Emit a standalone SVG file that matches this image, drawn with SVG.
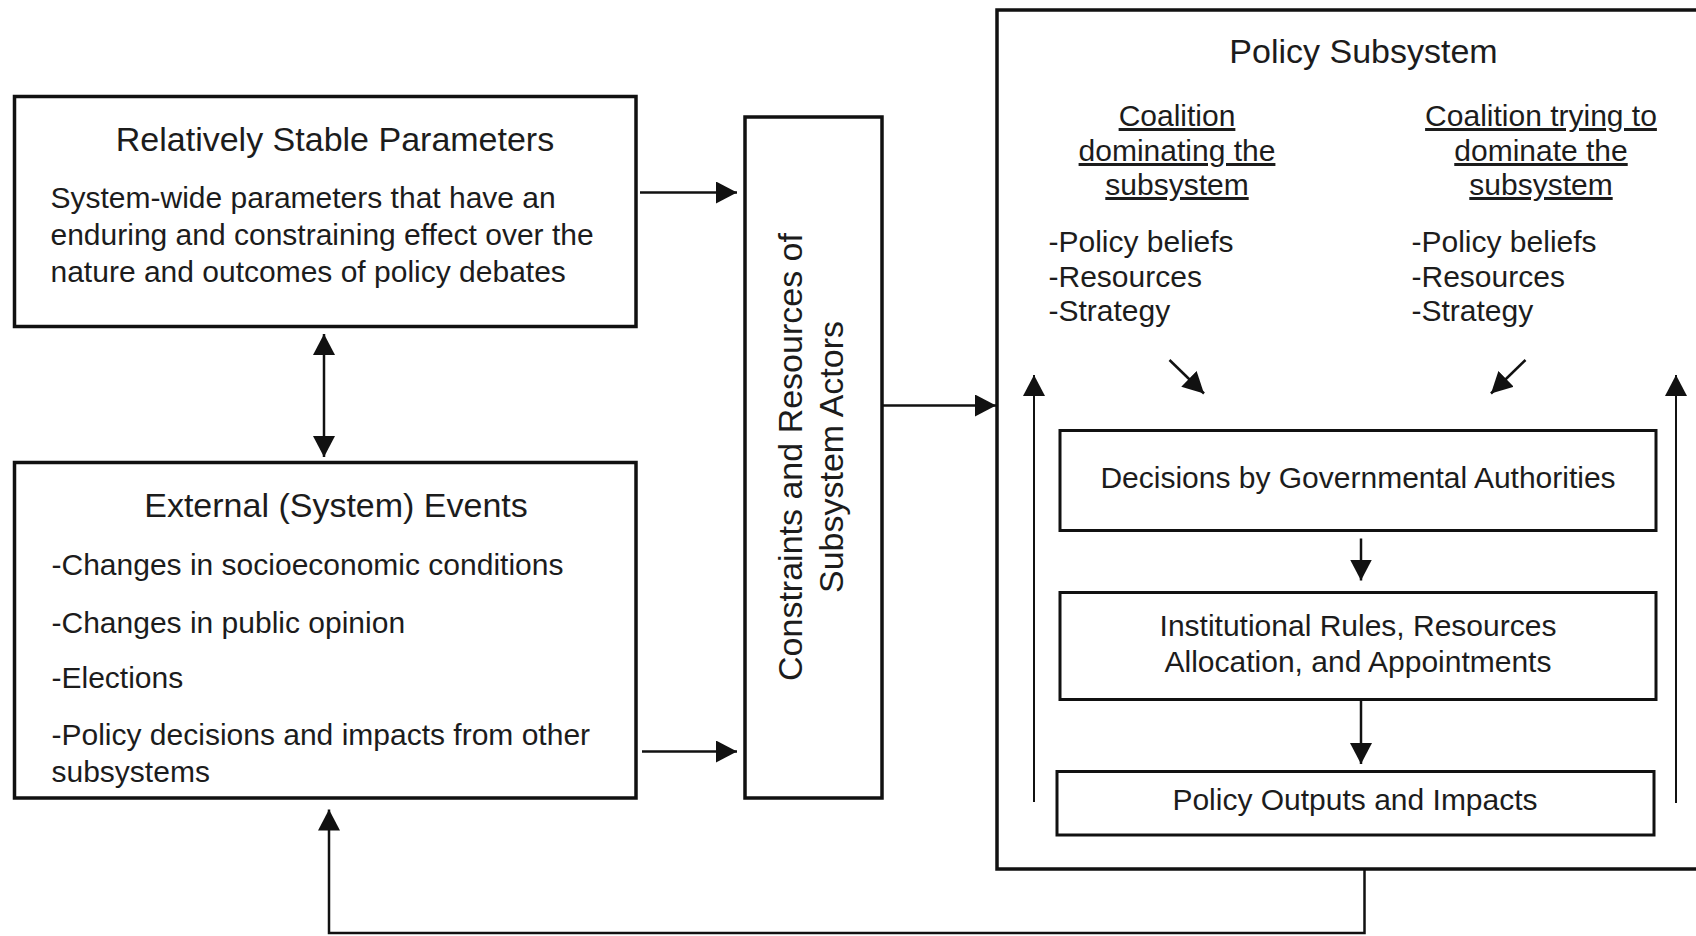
<svg xmlns="http://www.w3.org/2000/svg" width="1696" height="936" viewBox="0 0 1696 936">
  <style>
    text { font-family: "Liberation Sans", Arial, sans-serif; fill: #1c1c1c; }
    .title { font-size: 34px; }
    .body { font-size: 30px; }
    .mid { text-anchor: middle; }
    .u { text-decoration: underline; }
    .box { fill: #ffffff; stroke: #111111; stroke-width: 3.5; }
    .ibox { fill: #ffffff; stroke: #111111; stroke-width: 3; }
    .conn { fill: none; stroke: #111111; stroke-width: 2.5; }
    .thin { fill: none; stroke: #111111; stroke-width: 2; }
  </style>
  <defs>
    <marker id="ah" markerUnits="userSpaceOnUse" markerWidth="21" markerHeight="22" viewBox="0 0 21 22" refX="21" refY="11" orient="auto-start-reverse">
      <path d="M0,0 L21,11 L0,22 Z" fill="#111111"/>
    </marker>
  </defs>
  <rect width="1696" height="936" fill="#ffffff"/>

  <g id="rsp">
    <rect class="box" x="14.5" y="96.5" width="621.5" height="230"/>
    <text class="title mid" x="335" y="151">Relatively Stable Parameters</text>
    <text class="body" x="50.5" y="208">System-wide parameters that have an</text>
    <text class="body" x="50.5" y="245">enduring and constraining effect over the</text>
    <text class="body" x="50.5" y="282">nature and outcomes of policy debates</text>
  </g>

  <g id="ee">
    <rect class="box" x="14.5" y="462.5" width="621.5" height="335.5"/>
    <text class="title mid" x="336" y="517">External (System) Events</text>
    <text class="body" x="51.5" y="575">-Changes in socioeconomic conditions</text>
    <text class="body" x="51.5" y="633">-Changes in public opinion</text>
    <text class="body" x="51.5" y="688">-Elections</text>
    <text class="body" x="51.5" y="745">-Policy decisions and impacts from other</text>
    <text class="body" x="51.5" y="782">subsystems</text>
  </g>

  <g id="cr">
    <rect class="box" x="745" y="117" width="137" height="681"/>
    <text class="title mid" transform="translate(801.5,457) rotate(-90)" x="0" y="0">Constraints and Resources of</text>
    <text class="title mid" transform="translate(801.5,457) rotate(-90)" x="0" y="41">Subsystem Actors</text>
  </g>

  <g id="ps">
    <rect class="box" x="997" y="10" width="720" height="859"/>
    <text class="title mid" x="1363.5" y="63">Policy Subsystem</text>
    <text class="body mid u" x="1177" y="126">Coalition</text>
    <text class="body mid u" x="1177" y="161">dominating the</text>
    <text class="body mid u" x="1177" y="195">subsystem</text>
    <text class="body mid u" x="1541" y="126">Coalition trying to</text>
    <text class="body mid u" x="1541" y="161">dominate the</text>
    <text class="body mid u" x="1541" y="195">subsystem</text>
    <text class="body" x="1048.5" y="252">-Policy beliefs</text>
    <text class="body" x="1048.5" y="287">-Resources</text>
    <text class="body" x="1048.5" y="321">-Strategy</text>
    <text class="body" x="1411.5" y="252">-Policy beliefs</text>
    <text class="body" x="1411.5" y="287">-Resources</text>
    <text class="body" x="1411.5" y="321">-Strategy</text>
  </g>

  <g id="decisions">
    <rect class="ibox" x="1060" y="430.5" width="596" height="100"/>
    <text class="body mid" x="1358" y="488">Decisions by Governmental Authorities</text>
  </g>

  <g id="institutional">
    <rect class="ibox" x="1060" y="592.5" width="596" height="107"/>
    <text class="body mid" x="1358" y="636">Institutional Rules, Resources</text>
    <text class="body mid" x="1358" y="672">Allocation, and Appointments</text>
  </g>

  <g id="outputs">
    <rect class="ibox" x="1057" y="771.5" width="597" height="63.5"/>
    <text class="body mid" x="1355" y="810">Policy Outputs and Impacts</text>
  </g>

  <g id="connectors">
    <line class="conn" x1="324" y1="334" x2="324" y2="457" marker-start="url(#ah)" marker-end="url(#ah)"/>
    <line class="conn" x1="640" y1="192.5" x2="737" y2="192.5" marker-end="url(#ah)"/>
    <line class="conn" x1="642" y1="751.5" x2="737" y2="751.5" marker-end="url(#ah)"/>
    <line class="conn" x1="882" y1="405.5" x2="996" y2="405.5" marker-end="url(#ah)"/>
    <line class="conn" x1="1169.5" y1="360" x2="1204" y2="393.5" marker-end="url(#ah)"/>
    <line class="conn" x1="1525.5" y1="360" x2="1491" y2="393.5" marker-end="url(#ah)"/>
    <line class="thin" x1="1034" y1="802" x2="1034" y2="375" marker-end="url(#ah)"/>
    <line class="thin" x1="1676" y1="803" x2="1676" y2="375" marker-end="url(#ah)"/>
    <line class="conn" x1="1361" y1="538.5" x2="1361" y2="580.5" marker-end="url(#ah)"/>
    <line class="conn" x1="1361" y1="700" x2="1361" y2="764" marker-end="url(#ah)"/>
    <path class="conn" d="M1364.5,869 V933 H329 V809.5" marker-end="url(#ah)"/>
  </g>
</svg>
